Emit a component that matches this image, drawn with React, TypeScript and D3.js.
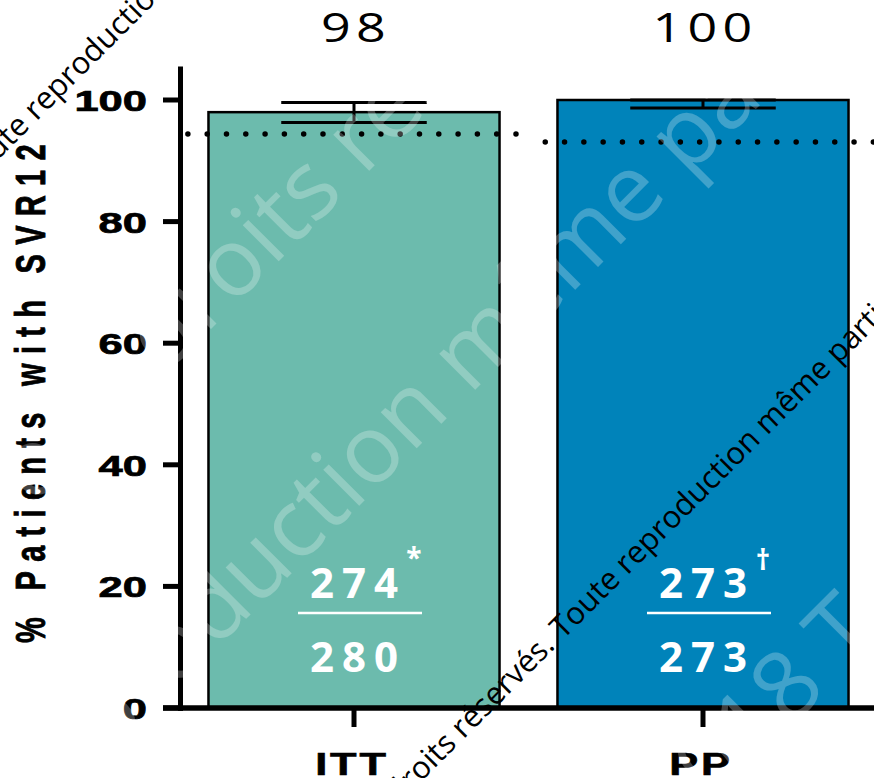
import React from 'react';
import * as d3 from 'd3';

const categories = ['ITT', 'PP'];
const values = [98, 100];
const errLow = [96.3, 98.7];
const errHigh = [99.6, 100];
const refLines = [94.4, 93.1];
const topLabels = ['98', '100'];
const numerators = ['274', '273'];
const denominators = ['280', '273'];
const footMarks = ['*', '†'];
const yTicks = [0, 20, 40, 60, 80, 100];
const colors = ['#6cbbad', '#0083ba'];
const yTitle = '% Patients with SVR12';

const W = 874;
const H = 778;
const SX = 1.4;

export default function App() {
  const y = d3.scaleLinear().domain([0, 100]).range([708, 100]);
  const x = d3
    .scaleBand<string>()
    .domain(categories)
    .range([183, 874])
    .paddingInner(0.166)
    .paddingOuter(0.073);
  const bw = x.bandwidth();
  const step = x.step();
  const axisFont = '"Liberation Sans", Arial, sans-serif';
  const wmFont = '"Open Sans", sans-serif';

  return (
    <svg
      width={W}
      height={H}
      viewBox={`0 0 ${W} ${H}`}
      style={{ position: 'absolute', left: 0, top: 0, background: '#fff' }}
    >
      <rect x={0} y={0} width={W} height={H} fill="#fff" />

      {/* bars */}
      {categories.map((c, i) => (
        <rect
          key={'bar' + c}
          x={x(c)}
          y={y(values[i])}
          width={bw}
          height={y(0) - y(values[i])}
          fill={colors[i]}
          stroke="#000"
          strokeWidth={2.5}
        />
      ))}

      {/* error bars */}
      {categories.map((c, i) => {
        const cx = (x(c) as number) + bw / 2;
        return (
          <g key={'err' + c} stroke="#000" strokeWidth={3}>
            <line x1={cx} x2={cx} y1={y(errLow[i])} y2={y(errHigh[i])} />
            <line x1={cx - bw / 4} x2={cx + bw / 4} y1={y(errLow[i])} y2={y(errLow[i])} />
            <line x1={cx - bw / 4} x2={cx + bw / 4} y1={y(errHigh[i])} y2={y(errHigh[i])} />
          </g>
        );
      })}

      {/* dotted reference lines */}
      {categories.map((c, i) => {
        const cx = (x(c) as number) + bw / 2;
        return (
          <line
            key={'ref' + c}
            x1={cx - step * (i === 0 ? 0.476 : 0.452)}
            x2={cx + step * (i === 0 ? 0.465 : 0.5)}
            y1={y(refLines[i])}
            y2={y(refLines[i])}
            stroke="#000"
            strokeWidth={5.5}
            strokeLinecap="round"
            strokeDasharray="0 19.3"
          />
        );
      })}

      {/* axes */}
      <line x1={180.5} x2={180.5} y1={y(105.5)} y2={711} stroke="#000" strokeWidth={5} />
      {yTicks.map((t) => (
        <g key={'yt' + t}>
          <line x1={163} x2={181} y1={y(t)} y2={y(t)} stroke="#000" strokeWidth={5} />
          <text
            transform={`translate(147,${y(t) + 11}) scale(1.45,1)`}
            textAnchor="end"
            fontFamily={axisFont}
            fontWeight="bold"
            fontSize={30}
            stroke="#000"
            strokeWidth={0.7}
            fill="#000"
          >
            {t}
          </text>
        </g>
      ))}
      <line x1={163} x2={874} y1={y(0)} y2={y(0)} stroke="#000" strokeWidth={5.5} />
      {categories.map((c) => {
        const cx = (x(c) as number) + bw / 2;
        return (
          <g key={'xt' + c}>
            <line x1={cx} x2={cx} y1={y(0)} y2={727} stroke="#000" strokeWidth={5} />
            <text
              transform={`translate(${cx - 2},775) scale(${SX},1)`}
              textAnchor="middle"
              fontFamily={axisFont}
              fontWeight="bold"
              fontSize={31}
              letterSpacing={2}
              stroke="#000"
              strokeWidth={0.6}
              fill="#000"
            >
              {c}
            </text>
          </g>
        );
      })}

      {/* y title */}
      <text
        transform={`translate(45,389) rotate(-90) scale(1,1.45)`}
        textAnchor="middle"
        fontFamily={axisFont}
        fontWeight="bold"
        fontSize={29}
        letterSpacing={9.3}
        stroke="#000"
        strokeWidth={0.6}
        fill="#000"
      >
        {yTitle}
      </text>

      {/* top labels */}
      {categories.map((c, i) => {
        const cx = (x(c) as number) + bw / 2;
        return (
          <text
            key={'top' + c}
            transform={`translate(${cx + 2},42) scale(1.3,1)`}
            textAnchor="middle"
            fontFamily={wmFont}
            fontSize={40}
            letterSpacing={4}
            fill="#000"
          >
            {topLabels[i]}
          </text>
        );
      })}

      {/* fractions inside bars */}
      {categories.map((c, i) => {
        const cx = (x(c) as number) + bw / 2;
        return (
          <g key={'frac' + c} fill="#fff" fontFamily={wmFont} fontWeight="bold">
            <text x={cx + 4} y={598} textAnchor="middle" fontSize={42} letterSpacing={8}>
              {numerators[i]}
            </text>
            <line x1={cx - 56} x2={cx + 68} y1={613} y2={613} stroke="#fff" strokeWidth={2.5} />
            <text x={cx + 4} y={672} textAnchor="middle" fontSize={42} letterSpacing={8}>
              {denominators[i]}
            </text>
            <text x={cx + 60} y={i === 0 ? 568 : 570} textAnchor="middle" fontSize={28}>
              {footMarks[i]}
            </text>
          </g>
        );
      })}

      {/* white watermark */}
      <g fill="#fff" fillOpacity={0.25} fontFamily={wmFont} fontSize={95}>
        <text transform="translate(-4,544) rotate(-45)">Tous droits réservés. Toute</text>
        <text transform="translate(41,824) rotate(-45)">reproduction même partielle interdite</text>
        <text transform="translate(675,843) rotate(-45)">2018 Tous droits réservés.</text>
      </g>

      {/* black watermark */}
      <g fill="#000" fontFamily={wmFont} fontSize={31}>
        <text transform="translate(-28,186) rotate(-45)">Toute reproduction même partielle interdite</text>
        <text transform="translate(556,647) rotate(-45)" textAnchor="end">
          © 2018 Tous droits réservés.{' '}
        </text>
        <text transform="translate(563,640) rotate(-45)">Toute reproduction même partielle interdite</text>
      </g>
    </svg>
  );
}
